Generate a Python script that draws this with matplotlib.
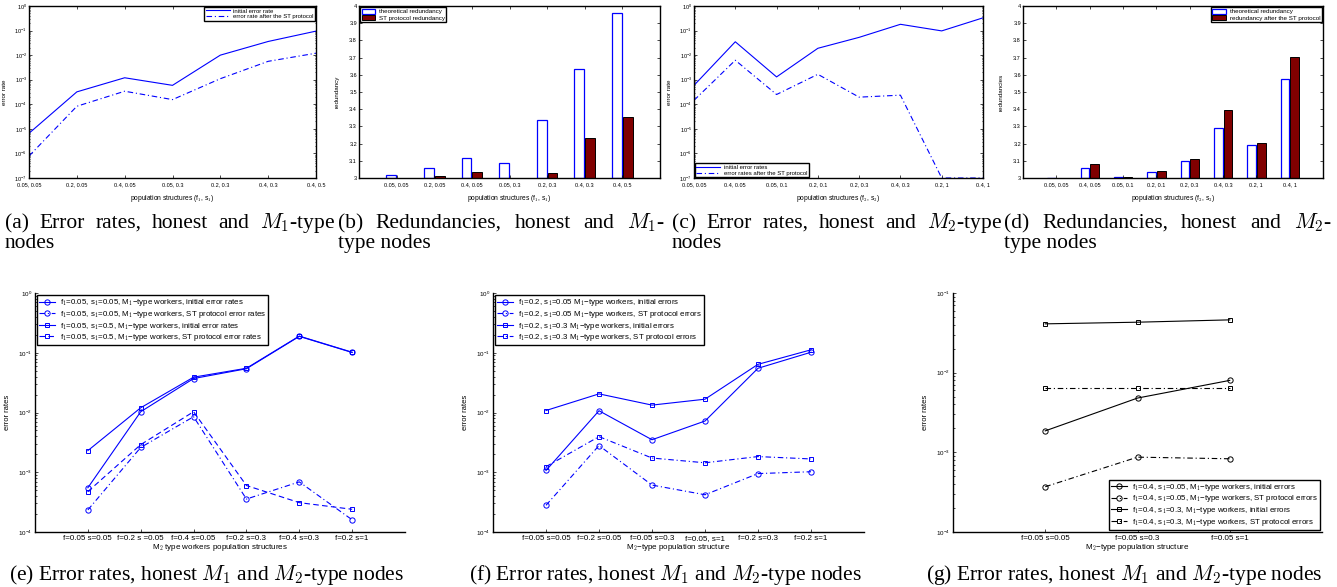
import matplotlib
matplotlib.use('Agg')
import matplotlib.pyplot as plt
import numpy as np

plt.rcParams['font.family'] = ['Liberation Sans', 'DejaVu Sans']
plt.rcParams['mathtext.fontset'] = 'cm'

# ---- data ----
# (a) error rates, honest and M1-type nodes
a_labels = ['0.05, 0.05', '0.2, 0.05', '0.4, 0.05', '0.05, 0.3', '0.2, 0.3', '0.4, 0.3', '0.4, 0.5']
a_initial = [6.6e-6, 3.2e-4, 1.2e-3, 5.9e-4, 1.0e-2, 3.6e-2, 0.095]
a_st = [7.8e-7, 8.3e-5, 3.4e-4, 1.55e-4, 1.1e-3, 5.6e-3, 1.2e-2]

# (b) redundancies, honest and M1-type nodes
b_labels = a_labels
b_theory = [3.015, 3.058, 3.116, 3.087, 3.338, 3.634, 3.957]
b_st = [3.0, 3.012, 3.035, 3.002, 3.029, 3.23, 3.352]

# (c) error rates, honest and M2-type nodes
c_labels = ['0.05, 0.05', '0.4, 0.05', '0.05, 0.1', '0.2, 0.1', '0.2, 0.3', '0.4, 0.3', '0.2, 1', '0.4, 1']
c_initial = [5.9e-4, 3.5e-2, 1.3e-3, 1.9e-2, 5.3e-2, 0.18, 0.097, 0.33]
c_st = [1.45e-4, 6.2e-3, 2.5e-4, 1.66e-3, 1.95e-4, 2.35e-4, 1e-7, 1e-7]

# (d) redundancies, honest and M2-type nodes
d_labels = c_labels
d_theory = [3.002, 3.056, 3.004, 3.037, 3.099, 3.292, 3.19, 3.576]
d_st = [3.002, 3.081, 3.004, 3.041, 3.11, 3.397, 3.203, 3.702]

# (e) f1=0.05
e_labels = ['f=0.05 s=0.05', 'f=0.2 s =0.05', 'f=0.4 s=0.05', 'f=0.2 s=0.3', 'f=0.4 s=0.3', 'f=0.2 s=1']
e_circ_init = [5.5e-4, 1.03e-2, 3.7e-2, 5.4e-2, 0.188, 0.101]
e_circ_st = [2.34e-4, 2.6e-3, 8.5e-3, 3.56e-4, 6.9e-4, 1.6e-4]
e_sq_init = [2.3e-3, 1.2e-2, 3.9e-2, 5.5e-2, 0.19, 0.102]
e_sq_st = [4.75e-4, 2.9e-3, 1.03e-2, 6.0e-4, 3.1e-4, 2.4e-4]

# (f) f1=0.2
f_labels = ['f=0.05 s=0.05', 'f=0.2 s=0.05', 'f=0.05 s=0.3', 'f=0.05, s=1', 'f=0.2 s=0.3', 'f=0.2 s=1']
f_circ_init = [1.07e-3, 1.07e-2, 3.5e-3, 7.2e-3, 5.5e-2, 0.102]
f_circ_st = [2.8e-4, 2.8e-3, 6.1e-4, 4.2e-4, 9.5e-4, 1.02e-3]
f_sq_init = [1.08e-2, 2.05e-2, 1.33e-2, 1.67e-2, 6.4e-2, 0.112]
f_sq_st = [1.24e-3, 3.95e-3, 1.73e-3, 1.44e-3, 1.83e-3, 1.67e-3]

# (g) f1=0.4
g_labels = ['f=0.05 s=0.05', 'f=0.05 s=0.3', 'f=0.05 s=1']
g_circ_init = [1.86e-3, 4.8e-3, 8.0e-3]
g_circ_st = [3.7e-4, 8.7e-4, 8.3e-4]
g_sq_init = [4.1e-2, 4.3e-2, 4.6e-2]
g_sq_st = [6.5e-3, 6.5e-3, 6.5e-3]

W, H = 1337, 587
fig = plt.figure(figsize=(W / 100, H / 100), dpi=100)

DASHDOT = (0, (5, 2.5, 1, 2.5))
DASHED = (0, (5, 3))
DARKRED = '#800000'


def px_axes(l, t, r, b):
    return fig.add_axes([l / W, 1 - b / H, (r - l) / W, (b - t) / H])


def legend_box(ax, **kw):
    leg = ax.legend(frameon=True, fancybox=False, framealpha=1, **kw)
    leg.get_frame().set_edgecolor('black')
    leg.get_frame().set_linewidth(1.0)
    return leg


def style_top(ax):
    for sp in ax.spines.values():
        sp.set_linewidth(1.0)
    ax.tick_params(which='both', direction='in', top=True, right=True,
                   labelsize=4.0, length=2, width=0.5, pad=1.5)
    ax.tick_params(axis='x', pad=3.2)
    ax.tick_params(which='minor', length=1)


def style_bottom(ax):
    ax.spines['top'].set_visible(False)
    ax.spines['right'].set_visible(False)
    for sp in ['left', 'bottom']:
        ax.spines[sp].set_linewidth(1.0)
    ax.tick_params(which='both', direction='in', labelsize=5.8, length=2.5,
                   width=0.5, pad=2)
    ax.tick_params(axis='y', labelsize=4.5)
    ax.tick_params(which='minor', length=1.2)


def line_panel(ax, labels, initial, st, l1, l2, xlabel, loc):
    x = np.arange(1, len(labels) + 1)
    ax.plot(x, initial, color='b', lw=0.8, label=l1)
    ax.plot(x, st, color='b', lw=0.8, ls=DASHDOT, label=l2)
    ax.set_yscale('log')
    ax.set_ylim(1e-7, 1)
    ax.set_xlim(1, len(labels))
    ax.set_xticks(x)
    ax.set_xticklabels(labels)
    style_top(ax)
    ax.set_ylabel('error rate', fontsize=4.5)
    ax.set_xlabel(xlabel, fontsize=4.8)
    ax.xaxis.set_label_coords(0.5, -0.09)
    ax.yaxis.set_label_coords(-0.075, 0.5)
    legend_box(ax, loc=loc, fontsize=4.3, handlelength=4, borderaxespad=0.2,
               borderpad=0.2, labelspacing=0.1, handletextpad=0.6)


def bar_panel(ax, labels, theory, st, l1, l2, xlabel, ylabel, loc):
    x = np.arange(1, len(labels) + 1)
    ax.bar(x - 0.145, np.array(theory) - 3, bottom=3, width=0.26,
           facecolor='white', edgecolor='b', lw=0.9, label=l1)
    ax.bar(x + 0.145, np.array(st) - 3, bottom=3, width=0.26,
           facecolor=DARKRED, edgecolor='black', lw=0.7, label=l2)
    ax.set_ylim(3, 4)
    ax.set_xlim(0, len(labels) + 1)
    ax.set_yticks(np.arange(3, 4.01, 0.1))
    ax.set_yticklabels(['3'] + ['%.1f' % v for v in np.arange(3.1, 3.95, 0.1)] + ['4'])
    ax.set_xticks(x)
    ax.set_xticklabels(labels)
    style_top(ax)
    ax.set_ylabel(ylabel, fontsize=4.5)
    ax.set_xlabel(xlabel, fontsize=4.8)
    ax.xaxis.set_label_coords(0.5, -0.09)
    ax.yaxis.set_label_coords(-0.065, 0.5)
    legend_box(ax, loc=loc, fontsize=4.5, handlelength=2.2, handleheight=0.9,
               borderaxespad=0.2, borderpad=0.2, labelspacing=0.1, handletextpad=0.6)


def marker_panel(ax, labels, series, color, xlabel, loc):
    x = np.arange(1, len(labels) + 1)
    for y, marker, ls, lab in series:
        ax.plot(x, y, color=color, lw=0.8, ls=ls, marker=marker,
                ms=3.8 if marker == 'o' else 3.1, mfc='none', mew=0.7, label=lab)
    ax.set_yscale('log')
    ax.set_xlim(0, len(labels) + 1)
    ax.set_xticks(x)
    ax.set_xticklabels(labels)
    style_bottom(ax)
    ax.set_ylabel('error rates', fontsize=5.5)
    ax.set_xlabel(xlabel, fontsize=5.8)
    ax.xaxis.set_label_coords(0.5, -0.042)
    ax.yaxis.set_label_coords(-0.065, 0.5)
    legend_box(ax, loc=loc, fontsize=5.7, handlelength=2.0, borderaxespad=0.3,
               borderpad=0.25, labelspacing=0.08, handletextpad=0.6)


# ---- top row ----
ax_a = px_axes(29, 6, 316, 178)
line_panel(ax_a, a_labels, a_initial, a_st, 'initial error rate',
           'error rate after the ST protocol', 'population structures (f$_1$, s$_1$)',
           'upper right')

ax_b = px_axes(359, 6, 660, 178)
bar_panel(ax_b, b_labels, b_theory, b_st, 'theoretical redundancy',
          'ST protocol redundancy', 'population structures (f$_1$, s$_1$)',
          'redundancy', 'upper left')

ax_c = px_axes(694, 6, 983, 178)
line_panel(ax_c, c_labels, c_initial, c_st, 'initial error rates',
           'error rates after the ST protocol', 'population structures (f$_2$, s$_2$)',
           'lower left')

ax_d = px_axes(1023, 6, 1323, 178)
bar_panel(ax_d, d_labels, d_theory, d_st, 'theoretical redundancy',
          'redundancy after the ST protocol', 'population structures (f$_2$, s$_2$)',
          'redundancies', 'upper right')

# ---- bottom row ----
ax_e = px_axes(35, 293, 405, 532)
marker_panel(ax_e, e_labels, [
    (e_circ_init, 'o', '-', 'f$_1$=0.05, s$_1$=0.05, M$_1$\u2212type workers, initial error rates'),
    (e_circ_st, 'o', DASHDOT, 'f$_1$=0.05, s$_1$=0.05, M$_1$\u2212type workers, ST protocol error rates'),
    (e_sq_init, 's', '-', 'f$_1$=0.05, s$_1$=0.5, M$_1$\u2212type workers, initial error rates'),
    (e_sq_st, 's', DASHED, 'f$_1$=0.05, s$_1$=0.5, M$_1$\u2212type workers, ST protocol error rates'),
], 'b', 'M$_2$ type workers population structures', 'upper left')
ax_e.set_ylim(1e-4, 1)

ax_f = px_axes(493, 293, 864, 532)
marker_panel(ax_f, f_labels, [
    (f_circ_init, 'o', '-', 'f$_1$=0.2, s$_1$=0.05 M$_1$\u2212type workers, initial errors'),
    (f_circ_st, 'o', DASHDOT, 'f$_1$=0.2, s$_1$=0.05 M$_1$\u2212type workers, ST protocol errors'),
    (f_sq_init, 's', '-', 'f$_1$=0.2, s$_1$=0.3 M$_1$\u2212type workers, initial errors'),
    (f_sq_st, 's', DASHDOT, 'f$_1$=0.2, s$_1$=0.3 M$_1$\u2212type workers, ST protocol errors'),
], 'b', 'M$_2$\u2212type population structure', 'upper left')
ax_f.set_ylim(1e-4, 1)

ax_g = px_axes(953, 293, 1322, 532)
marker_panel(ax_g, g_labels, [
    (g_circ_init, 'o', '-', 'f$_1$=0.4, s$_1$=0.05, M$_1$\u2212type workers, initial errors'),
    (g_circ_st, 'o', DASHDOT, 'f$_1$=0.4, s$_1$=0.05, M$_1$\u2212type workers, ST protocol errors'),
    (g_sq_init, 's', '-', 'f$_1$=0.4, s$_1$=0.3, M$_1$\u2212type workers, initial errors'),
    (g_sq_st, 's', DASHDOT, 'f$_1$=0.4, s$_1$=0.3, M$_1$\u2212type workers, ST protocol errors'),
], 'black', 'M$_2$\u2212type population structure', 'lower right')
ax_g.set_ylim(1e-4, 1e-1)

# ---- captions ----
CAP = dict(family=['Liberation Serif', 'DejaVu Serif'], fontsize=15.5)
renderer = fig.canvas.get_renderer()


def justified(words, x0, x1, y):
    texts = [fig.text(0, 1 - y / H, w, va='baseline', ha='left', **CAP) for w in words]
    widths = [t.get_window_extent(renderer).width for t in texts]
    gap = (x1 - x0 - sum(widths)) / (len(words) - 1)
    x = x0
    for t, w in zip(texts, widths):
        t.set_x(x / W)
        x += w + gap


def plain(text, x, y, ha='left'):
    fig.text(x / W, 1 - y / H, text, va='baseline', ha=ha, **CAP)


justified(['(a)', 'Error', 'rates,', 'honest', 'and', '$M_1$-type'], 5, 335, 228)
plain('nodes', 5, 248)
justified(['(b)', 'Redundancies,', 'honest', 'and', '$M_1$-'], 338, 665, 228)
plain('type nodes', 338, 248)
justified(['(c)', 'Error', 'rates,', 'honest', 'and', '$M_2$-type'], 672, 1002, 228)
plain('nodes', 672, 248)
justified(['(d)', 'Redundancies,', 'honest', 'and', '$M_2$-'], 1004, 1332, 228)
plain('type nodes', 1004, 248)

plain('(e) Error rates, honest $M_1$ and $M_2$-type nodes', 207, 580, ha='center')
plain('(f) Error rates, honest $M_1$ and $M_2$-type nodes', 665, 580, ha='center')
plain('(g) Error rates, honest $M_1$ and $M_2$-type nodes', 1124, 580, ha='center')

fig.savefig('out.png', dpi=100)
